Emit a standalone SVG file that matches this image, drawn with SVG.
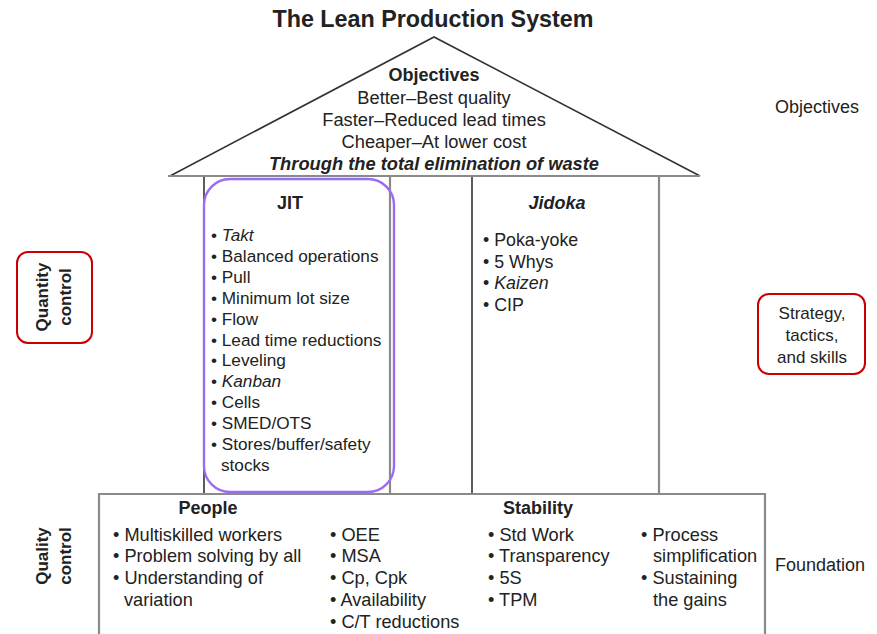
<svg xmlns="http://www.w3.org/2000/svg" width="877" height="634" viewBox="0 0 877 634">
  <style>
    text { font-family: "Liberation Sans", Arial, sans-serif; fill: #222; }
    .title { font-size: 23.3px; font-weight: bold; text-anchor: middle; }
    .roof { font-size: 18.3px; text-anchor: middle; }
    .hd { font-size: 18px; font-weight: bold; text-anchor: middle; }
    .jit { font-size: 17.2px; }
    .jid { font-size: 17.8px; }
    .fnd { font-size: 18.2px; }
    .side { font-size: 18px; }
    .box { font-size: 17px; }
    .vert { font-size: 17px; font-weight: bold; text-anchor: middle; }
    .it { font-style: italic; }
    .dark { stroke: #333; stroke-width: 1.6; fill: none; }
    .grey { stroke: #8a8a8a; stroke-width: 2.2; fill: none; }
    .red { stroke: #c80000; stroke-width: 2; fill: none; }
    .purple { stroke: #9b6cf2; stroke-width: 2.4; fill: none; }
  </style>

  <rect width="877" height="634" fill="#fff"/>

  <text class="title" x="433" y="27">The Lean Production System</text>

  <!-- house frame -->
  <g id="frame">
    <polyline class="dark" points="170,176 434,37 700,176"/>
    <line class="grey" x1="168" y1="176" x2="700" y2="176"/>
    <line class="dark" x1="204" y1="177" x2="204" y2="493"/>
    <line class="grey" x1="390" y1="177" x2="390" y2="493"/>
    <line class="dark" x1="472" y1="177" x2="472" y2="493"/>
    <line class="grey" x1="659" y1="177" x2="659" y2="493"/>
    <polyline class="grey" points="99,634 99,494 765,494 765,634"/>
  </g>

  <!-- roof -->
  <g id="roof">
    <text class="hd" x="434" y="81">Objectives</text>
    <text class="roof" x="434" y="104">Better–Best quality</text>
    <text class="roof" x="434" y="126">Faster–Reduced lead times</text>
    <text class="roof" x="434" y="148">Cheaper–At lower cost</text>
    <text class="roof" x="434" y="170" font-weight="bold" font-style="italic">Through the total elimination of waste</text>
  </g>

  <!-- JIT pillar -->
  <g id="jit">
    <rect class="purple" x="204" y="179" width="190" height="313" rx="26"/>
    <text class="hd" x="290" y="209">JIT</text>
    <text class="jit" x="211" y="241">• <tspan class="it">Takt</tspan></text>
    <text class="jit" x="211" y="262">• Balanced operations</text>
    <text class="jit" x="211" y="283">• Pull</text>
    <text class="jit" x="211" y="304">• Minimum lot size</text>
    <text class="jit" x="211" y="325">• Flow</text>
    <text class="jit" x="211" y="346">• Lead time reductions</text>
    <text class="jit" x="211" y="366">• Leveling</text>
    <text class="jit" x="211" y="387">• <tspan class="it">Kanban</tspan></text>
    <text class="jit" x="211" y="408">• Cells</text>
    <text class="jit" x="211" y="429">• SMED/OTS</text>
    <text class="jit" x="211" y="450">• Stores/buffer/safety</text>
    <text class="jit" x="221" y="471">stocks</text>
  </g>

  <!-- Jidoka pillar -->
  <g id="jidoka">
    <text class="hd it" x="557" y="209">Jidoka</text>
    <text class="jid" x="483" y="246">• Poka-yoke</text>
    <text class="jid" x="483" y="268">• 5 Whys</text>
    <text class="jid" x="483" y="289">• <tspan class="it">Kaizen</tspan></text>
    <text class="jid" x="483" y="311">• CIP</text>
  </g>

  <!-- foundation -->
  <g id="foundation">
    <text class="hd" x="208" y="514">People</text>
    <text class="hd" x="538" y="514">Stability</text>
    <text class="fnd" x="113" y="541">• Multiskilled workers</text>
    <text class="fnd" x="113" y="562">• Problem solving by all</text>
    <text class="fnd" x="113" y="584">• Understanding of</text>
    <text class="fnd" x="124" y="606">variation</text>
    <text class="fnd" x="330" y="541">• OEE</text>
    <text class="fnd" x="330" y="562">• MSA</text>
    <text class="fnd" x="330" y="584">• Cp, Cpk</text>
    <text class="fnd" x="330" y="606">• Availability</text>
    <text class="fnd" x="330" y="628">• C/T reductions</text>
    <text class="fnd" x="488" y="541">• Std Work</text>
    <text class="fnd" x="488" y="562">• Transparency</text>
    <text class="fnd" x="488" y="584">• 5S</text>
    <text class="fnd" x="488" y="606">• TPM</text>
    <text class="fnd" x="641" y="541">• Process</text>
    <text class="fnd" x="653" y="562">simplification</text>
    <text class="fnd" x="641" y="584">• Sustaining</text>
    <text class="fnd" x="653" y="606">the gains</text>
  </g>

  <!-- side labels -->
  <g id="label-objectives">
    <text class="side" x="817" y="113" text-anchor="middle">Objectives</text>
  </g>
  <g id="label-foundation">
    <text class="side" x="775" y="571">Foundation</text>
  </g>
  <g id="label-strategy">
    <rect class="red" x="758" y="294" width="107" height="80" rx="11"/>
    <text class="box" x="812" y="319" text-anchor="middle">Strategy,</text>
    <text class="box" x="812" y="341" text-anchor="middle">tactics,</text>
    <text class="box" x="812" y="363" text-anchor="middle">and skills</text>
  </g>
  <g id="label-quantity">
    <rect class="red" x="17" y="252" width="75" height="91" rx="11"/>
    <text class="vert" transform="translate(48,297) rotate(-90)">Quantity</text>
    <text class="vert" transform="translate(71,297) rotate(-90)">control</text>
  </g>
  <g id="label-quality">
    <text class="vert" transform="translate(48,556) rotate(-90)">Quality</text>
    <text class="vert" transform="translate(71,556) rotate(-90)">control</text>
  </g>
</svg>
